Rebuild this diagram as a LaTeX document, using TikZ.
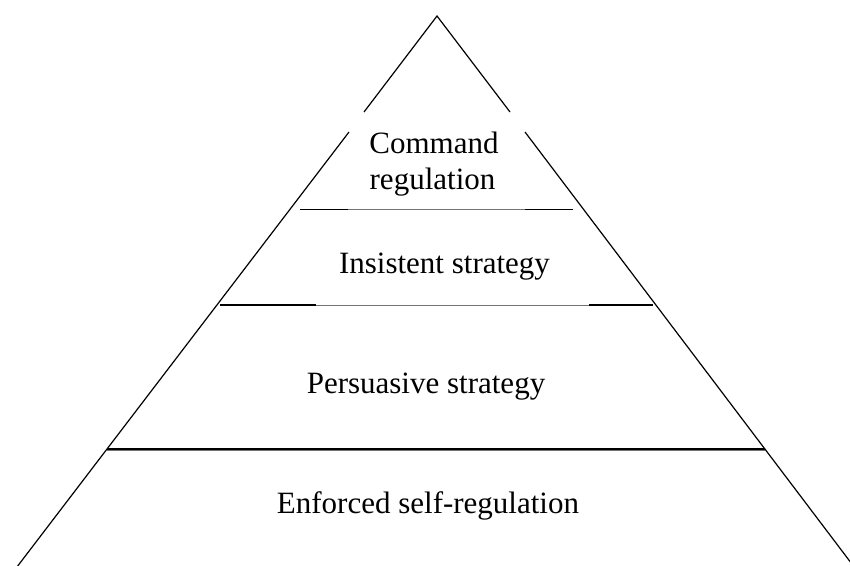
\documentclass[tikz,border=0pt]{standalone}
\usepackage{fontspec}
\setmainfont{Liberation Serif}
\begin{document}
\begin{tikzpicture}[x=1pt,y=-1pt,
  side/.style={line width=1.2pt,black},
  tier/.style={line width=1.5pt,black},
  faint/.style={line width=0.8pt,black!55},
  label/.style={inner sep=0pt,anchor=base,font=\fontsize{31}{36}\selectfont}]
\useasboundingbox (0,0) rectangle (850,565);
\clip (0,0) rectangle (850,565);

% apex and the two sides, each broken beside the top label
\coordinate (apex) at (437,16);
\coordinate (lgapA) at (364,112);
\coordinate (lgapB) at (349,132);
\coordinate (rgapA) at (510,112);
\coordinate (rgapB) at (525,132);
\coordinate (lfoot) at (7,580);
\coordinate (rfoot) at (864,580);
\draw[side] (lgapA) -- (apex) -- (rgapA);
\draw[side] (lgapB) -- (lfoot);
\draw[side] (rgapB) -- (rfoot);

% tier dividers
\coordinate (a1) at (300,209.5); \coordinate (a2) at (348,209.5);
\coordinate (a3) at (525,209.5); \coordinate (a4) at (573,209.5);
\draw[tier] (a1) -- (a2);
\draw[faint] (a2) -- (a3);
\draw[tier] (a3) -- (a4);

\coordinate (b1) at (220,305); \coordinate (b2) at (316,305);
\coordinate (b3) at (589,305); \coordinate (b4) at (653,305);
\draw[tier] (b1) -- (b2);
\draw[faint] (b2) -- (b3);
\draw[tier] (b3) -- (b4);

\coordinate (c1) at (107,449); \coordinate (c2) at (765,449);
\draw[tier] (c1) -- (c2);
\draw[faint] ([yshift=-1.4pt]c1) -- ([yshift=-1.4pt]c2);

% tier labels
\node[label] (cmd1) at (434,153) {Command};
\node[label] (cmd2) at (432.5,189) {regulation};
\node[label] (ins) at (444.5,273) {Insistent strategy};
\node[label] (per) at (426,393) {Persuasive strategy};
\node[label] (enf) at (428,513) {Enforced self-regulation};
\end{tikzpicture}
\end{document}
